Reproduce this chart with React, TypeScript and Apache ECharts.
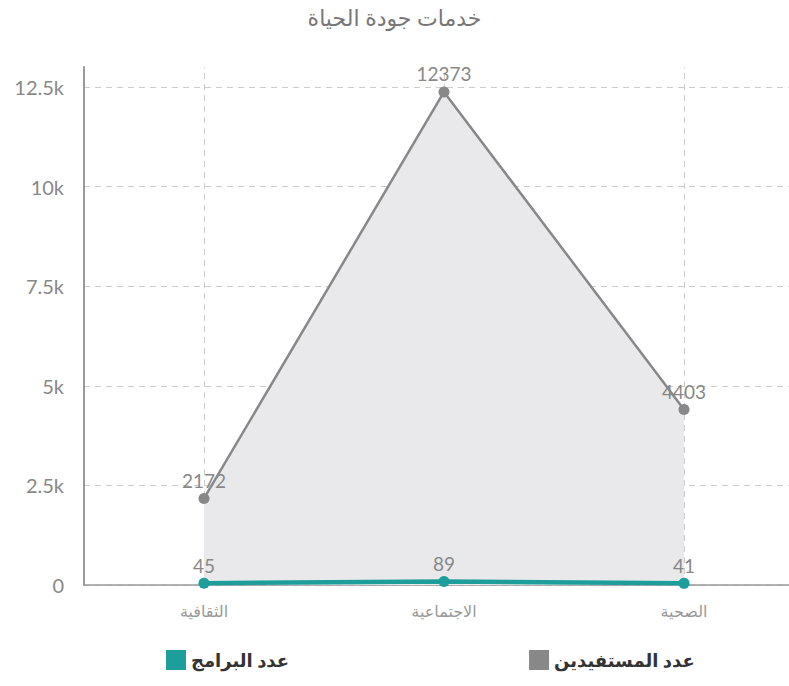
import React, { useEffect, useRef } from "react";
import * as echarts from "echarts";

const title = "خدمات جودة الحياة";
const categories = ["الثقافية", "الاجتماعية", "الصحية"];
const beneficiariesName = "عدد المستفيدين";
const programsName = "عدد البرامج";
const beneficiaries = [2172, 12373, 4403];
const programs = [45, 89, 41];
const yTicks = [0, 2500, 5000, 7500, 10000, 12500];

export default function App() {
  const ref = useRef<HTMLDivElement>(null);
  useEffect(() => {
    const chart = echarts.init(ref.current!, null, { renderer: "svg" });
    const font = "Lato, 'DejaVu Sans', sans-serif";
    chart.setOption({
      animation: false,
      textStyle: { fontFamily: font },
      title: {
        text: title,
        left: "center",
        top: 1,
        textStyle: { fontSize: 22, fontWeight: "normal", color: "#777", fontFamily: font },
      },
      legend: {
        data: [
          { name: programsName, icon: "rect" },
          { name: beneficiariesName, icon: "rect" },
        ],
        left: 161,
        top: 645,
        itemWidth: 20,
        itemHeight: 20,
        itemGap: 240,
        textStyle: { fontSize: 18, fontWeight: "bold", color: "#333", fontFamily: font },
      },
      grid: {
        left: 84,
        top: 67,
        width: 720,
        height: 518,
        containLabel: false,
        outerBoundsMode: "none",
      },
      xAxis: {
        type: "category",
        data: categories,
        boundaryGap: true,
        axisLine: { lineStyle: { color: "#999", width: 1.5 } },
        axisTick: { show: false },
        axisLabel: { color: "#999", fontSize: 16, margin: 17 },
        splitLine: { show: false },
      },
      yAxis: {
        type: "value",
        min: 0,
        max: 13000,
        interval: 2500,
        axisLine: { show: true, lineStyle: { color: "#999", width: 2 } },
        axisTick: { show: false },
        axisLabel: {
          color: "#888",
          fontSize: 20,
          margin: 20,
          showMaxLabel: false,
          formatter: (v: number) =>
            yTicks.includes(v) ? (v === 0 ? "0" : v / 1000 + "k") : "",
        },
        splitLine: {
          show: true,
          showMaxLine: false,
          lineStyle: { color: "#ccc", type: [6, 5], width: 1 },
        },
      },
      series: [
        {
          name: beneficiariesName,
          type: "line",
          data: beneficiaries,
          symbol: "circle",
          symbolSize: 11,
          itemStyle: { color: "#888" },
          lineStyle: { color: "#888", width: 2.5 },
          areaStyle: { color: "#e9e9eb", opacity: 1 },
          label: { show: true, position: "top", color: "#888", fontSize: 19, distance: 3 },
          markLine: {
            silent: true,
            symbol: "none",
            label: { show: false },
            lineStyle: { color: "#ccc", type: [6, 5], width: 1 },
            data: categories.map((c) => ({ xAxis: c })),
            z: 1,
          },
          z: 2,
        },
        {
          name: programsName,
          type: "line",
          data: programs,
          symbol: "circle",
          symbolSize: 11,
          itemStyle: { color: "#1d9e9b" },
          lineStyle: { color: "#1d9e9b", width: 4.5 },
          label: { show: true, position: "top", color: "#888", fontSize: 19, distance: 3 },
          z: 3,
        },
      ],
    });
    return () => chart.dispose();
  }, []);
  return <div ref={ref} style={{ width: 789, height: 686, position: "absolute", left: 0, top: 0 }} />;
}
